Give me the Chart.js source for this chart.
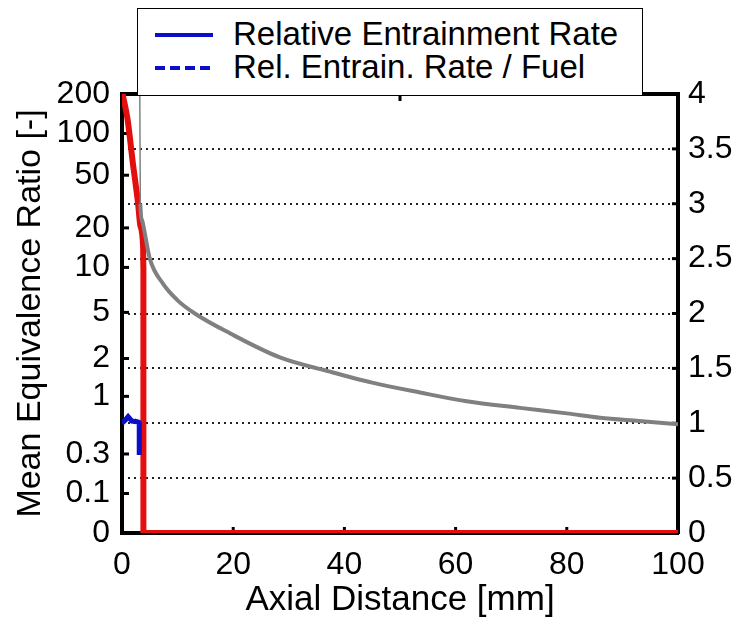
<!DOCTYPE html>
<html>
<head>
<meta charset="utf-8">
<script src="https://cdn.jsdelivr.net/npm/chart.js@4/dist/chart.umd.min.js"></script>
<style>
body{margin:0;background:#fff;}
#wrap{position:relative;width:738px;height:621px;}
#legend{position:absolute;left:137px;top:8px;width:504px;height:86px;border:1px solid #000;background:#fff;
  font-family:'Liberation Sans',Arial,sans-serif;font-size:33px;color:#000;}
.row{position:absolute;left:0;width:100%;height:40px;line-height:40px;white-space:nowrap;}
.row svg{position:absolute;left:17px;top:0;}
.row span{position:absolute;left:95px;top:0;}
</style>
</head>
<body>
<div id="wrap">
  <canvas id="chart" width="738" height="621"></canvas>
  <div id="legend"></div>
</div>
<script>
// ----- Data (x = axial distance in mm, y in plot units 0..4) -----
const seriesNames = ['Relative Entrainment Rate', 'Rel. Entrain. Rate / Fuel'];

const blueX = [0, 0.6, 1.1, 1.8, 3.0, 3.1, 3.1];
const blueY = [1.0, 1.03, 1.06, 1.02, 1.01, 1.0, 0.71];
const blueDashX = [0, 1.1, 3.0];
const blueDashY = [1.0, 1.05, 1.01];

const redX = [0.1, 1.0, 2.0, 2.5, 2.9, 3.3, 3.8, 3.85, 3.85, 100];
const redY = [4.0, 3.77, 3.35, 3.16, 3.0, 2.8, 2.6, 2.4, 0, 0];

const grayX = [3.2, 3.3, 3.6, 4.1, 5, 7.4, 10, 13.1, 19.4, 28.4, 37.4, 45, 53.6, 62, 71.6, 80, 86, 93, 100];
const grayY = [4.0, 3.0, 2.85, 2.73, 2.5, 2.27, 2.12, 2.0, 1.82, 1.6, 1.47, 1.37, 1.28, 1.2, 1.14, 1.09, 1.05, 1.02, 0.99];

// left axis: equivalence ratio labels placed on the 0..4 plot scale
const leftTickPos = [0, 0.36, 0.72, 1.245, 1.59, 2.01, 2.42, 2.78, 3.26, 3.64, 4];
const leftTickLabels = ['0', '0.1', '0.3', '1', '2', '5', '10', '20', '50', '100', '200'];
const topTicks = [50];

const pts = (xs, ys) => xs.map((x, i) => ({x, y: ys[i]}));

Chart.defaults.font.family = "'Liberation Sans', Arial, sans-serif";
Chart.defaults.color = '#000';

// inward tick marks + top frame (MATLAB style box)
const frameTicks = {
  id: 'frameTicks',
  beforeDatasetsDraw(chart){
    const {ctx, chartArea: a, scales} = chart;
    ctx.save();
    ctx.fillStyle = '#000';
    ctx.fillRect(a.left - 2, a.top - 2, a.right - a.left + 4, 4);
    scales.yL.ticks.forEach(t => {
      const y = scales.yL.getPixelForValue(t.value);
      ctx.fillRect(a.left, y - 1.5, 7, 3);
    });
    scales.y.ticks.forEach(t => {
      const y = scales.y.getPixelForValue(t.value);
      ctx.fillRect(a.right - 6, y - 1.5, 6, 3);
    });
    scales.x.ticks.forEach(t => {
      const x = scales.x.getPixelForValue(t.value);
      ctx.fillRect(x - 1.5, a.bottom - 6, 3, 6);
    });
    topTicks.forEach(v => {
      const x = scales.x.getPixelForValue(v);
      ctx.fillRect(x - 1.5, a.top, 3, 7);
    });
    ctx.restore();
  }
};

const blue = '#0a10c8';
const chart = new Chart(document.getElementById('chart').getContext('2d'), {
  type: 'line',
  data: {
    datasets: [
      {label: 'Gray', data: pts(grayX, grayY), yAxisID: 'y', borderColor: '#808080', borderWidth: 4,
        cubicInterpolationMode: 'monotone', pointRadius: 0,
        segment: {borderWidth: c => c.p0DataIndex === 0 ? 1.5 : 4}},
      {label: seriesNames[1], data: pts(blueDashX, blueDashY), yAxisID: 'y', borderColor: blue, borderWidth: 4,
        borderDash: [10, 5], pointRadius: 0},
      {label: seriesNames[0], data: pts(blueX, blueY), yAxisID: 'y', borderColor: blue, borderWidth: 5,
        pointRadius: 0},
      {label: 'Mean Equivalence Ratio', data: pts(redX, redY), yAxisID: 'yL', borderColor: '#e30f0f', borderWidth: 6,
        cubicInterpolationMode: 'monotone', pointRadius: 0}
    ]
  },
  options: {
    responsive: false,
    animation: false,
    devicePixelRatio: 1,
    layout: {padding: {top: 94, left: 0, right: 0, bottom: 0}},
    plugins: {legend: {display: false}, tooltip: {enabled: false}},
    scales: {
      x: {
        type: 'linear', min: 0, max: 100,
        ticks: {stepSize: 20, padding: 13, font: {size: 32}},
        grid: {display: false, drawTicks: false},
        border: {color: '#000', width: 4},
        title: {display: true, text: 'Axial Distance [mm]', font: {size: 35}, padding: 0},
        afterFit(s){ s.height = 88; }
      },
      yL: {
        type: 'linear', position: 'left', min: 0, max: 4,
        afterBuildTicks(s){ s.ticks = leftTickPos.map(v => ({value: v})); },
        ticks: {autoSkip: false, padding: 12, font: {size: 32}, callback: (v, i) => leftTickLabels[i]},
        grid: {display: false, drawTicks: false},
        border: {color: '#000', width: 4},
        title: {display: true, text: 'Mean Equivalence Ratio [-]', font: {size: 34}, padding: {top: 10, bottom: 0}},
        afterFit(s){ s.width = 122; }
      },
      y: {
        type: 'linear', position: 'right', min: 0, max: 4,
        ticks: {stepSize: 0.5, padding: 10, font: {size: 32}, callback: v => String(v)},
        grid: {color: '#222', lineWidth: 2, drawTicks: false},
        border: {color: '#000', width: 4, dash: [2, 4]},
        afterFit(s){ s.width = 60; }
      }
    }
  },
  plugins: [frameTicks]
});

// ----- Legend (boxed, top) -----
const legend = document.getElementById('legend');
[[seriesNames[0], '', 5], [seriesNames[1], '10 5', 38]].forEach(([name, dash, top]) => {
  const row = document.createElement('div');
  row.className = 'row';
  row.style.top = top + 'px';
  row.innerHTML = `<svg width="60" height="40"><line x1="0" y1="21" x2="58" y2="21" stroke="${blue}" stroke-width="4" ${dash ? `stroke-dasharray="${dash}"` : ''}/></svg><span>${name}</span>`;
  legend.appendChild(row);
});
</script>
</body>
</html>
